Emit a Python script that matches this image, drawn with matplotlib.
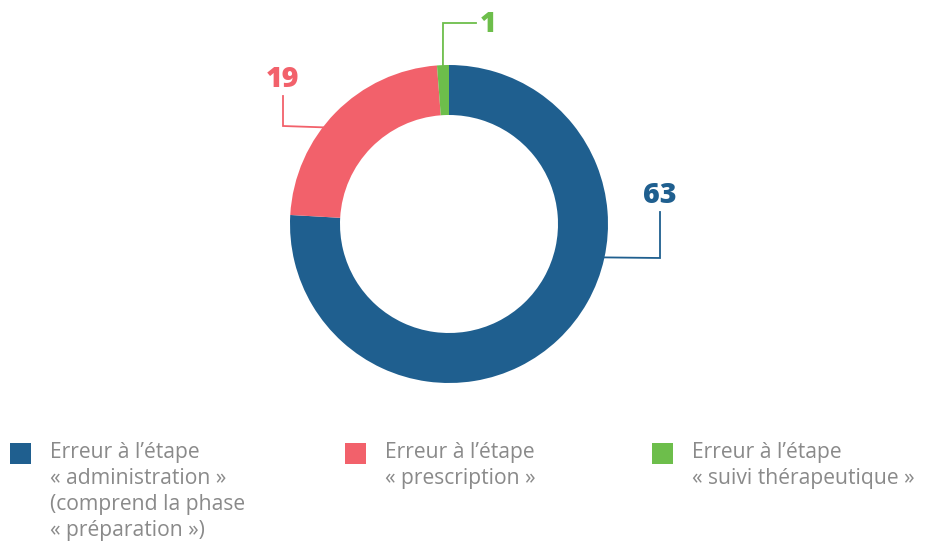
import numpy as np
import matplotlib.pyplot as plt

W, H = 933, 543

labels = [
    ['Erreur à l’étape', '« administration »', '(comprend la phase', '« préparation »)'],
    ['Erreur à l’étape', '« prescription »'],
    ['Erreur à l’étape', '« suivi thérapeutique »'],
]
values = [63, 19, 1]
colors = ['#1f5f8f', '#f2616b', '#6dbe4b']

# layout in pixels (y measured from top)
cx, cy, r_out, ring = 449, 224, 159, 50
# (anchor angle on ring, elbow, end of line, label position)
leaders = [
    (-12.2, (660, 258), (660, 212), (660, 203)),
    (142.3, (283, 126), (283, 96), (282, 87)),
    (92.2, (443, 23), (476, 23), (488, 32)),
]
legend_x = [10, 345, 652]
line_h = 26

fig = plt.figure(figsize=(W / 100, H / 100), dpi=100)
ax = fig.add_axes([0, 0, 1, 1])
ax.pie(values, colors=colors, startangle=90, counterclock=False,
       radius=r_out, center=(cx, H - cy),
       wedgeprops=dict(width=ring, linewidth=0))
ax.set_xlim(0, W)
ax.set_ylim(0, H)
ax.set_aspect('equal')
ax.axis('off')

for v, c, (ang, elbow, end, lab) in zip(values, colors, leaders):
    a = np.radians(ang)
    x0 = cx + (r_out - 1) * np.cos(a)
    y0 = cy - (r_out - 1) * np.sin(a)
    xs = [x0, elbow[0], end[0]]
    ys = [H - y0, H - elbow[1], H - end[1]]
    ax.plot(xs, ys, color=c, lw=1.3, solid_joinstyle='miter')
    ax.text(lab[0], H - lab[1], str(v), color=c, fontsize=20.5,
            fontweight=800, family='Open Sans', ha='center', va='baseline')

for lx, c, lines in zip(legend_x, colors, labels):
    ax.add_patch(plt.Rectangle((lx, H - 464), 21, 21, color=c, lw=0))
    for i, t in enumerate(lines):
        ax.text(lx + 40, H - (458 + i * line_h), t, color='#8a8a8a',
                fontsize=15.2, family='Open Sans', ha='left', va='baseline')

fig.savefig('out.png', dpi=100)
